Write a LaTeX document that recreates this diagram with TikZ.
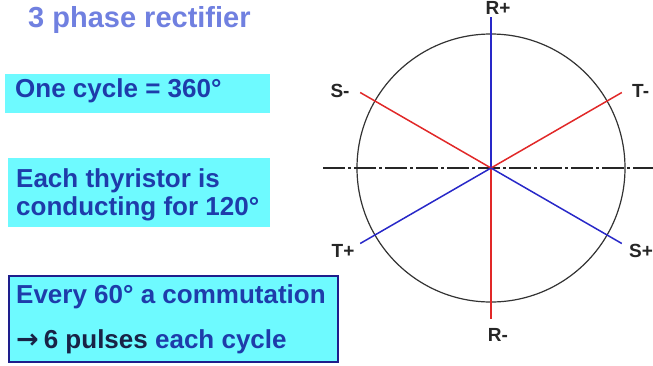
\documentclass[tikz,border=0pt]{standalone}
\usepackage{fontspec}
\setmainfont{Liberation Sans}
\newfontfamily\symfont{DejaVu Sans}
\definecolor{boxcyan}{RGB}{110,250,255}
\definecolor{txtblue}{RGB}{30,60,170}
\definecolor{titleblue}{RGB}{112,128,224}
\definecolor{darknavy}{RGB}{25,35,70}
\definecolor{bordernavy}{RGB}{30,30,140}
\definecolor{lineblue}{RGB}{40,40,200}
\definecolor{linered}{RGB}{225,40,40}
\tikzset{
  cbox/.style={rectangle, fill=boxcyan, anchor=north west, inner sep=0pt},
  btext/.style={anchor=base west, inner sep=0pt, font=\bfseries\fontsize{26}{28}\selectfont, text=txtblue},
  plabel/.style={inner sep=0pt, font=\bfseries\fontsize{19}{21}\selectfont, text=black!85},
  phaseblue/.style={draw=lineblue, line width=1.5pt},
  phasered/.style={draw=linered, line width=1.5pt},
}
\begin{document}
\begin{tikzpicture}[x=1pt,y=-1pt]
\useasboundingbox (0,0) rectangle (653,365);
\clip (0,0) rectangle (653,365);
% title
\node[anchor=base west, inner sep=0pt, font=\bfseries\fontsize{29}{31}\selectfont, text=titleblue] (title) at (28,27) {3 phase rectifier};
% boxes
\node[cbox, minimum width=265pt, minimum height=39pt] (box1) at (5,74) {};
\node[btext] (t1) at (15,97) {One cycle = 360°};
\node[cbox, minimum width=262pt, minimum height=69pt] (box2) at (8,158) {};
\node[btext] (t2a) at (16,187) {Each thyristor is};
\node[btext] (t2b) at (16,215) {conducting for 120°};
\node[cbox, draw=bordernavy, line width=1.5pt, minimum width=329pt, minimum height=86pt] (box3) at (8,275) {};
\node[btext] (t3a) at (16,303) {Every 60° a commutation};
\node[btext, text=darknavy] (t3b) at (16,348) {{\symfont\bfseries\fontsize{27}{28}\selectfont→}\hspace{5pt}6 pulses \textcolor{txtblue}{each cycle}};
% phasor diagram
\coordinate (O) at (491,168);
\draw[line width=1.2pt, black!80] (O) circle[radius=134];
\coordinate (HL) at (323,168);
\coordinate (HR) at (660,168);
\draw[line width=1.3pt, black!85, dash pattern=on 22pt off 3pt on 3pt off 3pt] (HL) -- (HR);
\coordinate (Rtop) at (491,17);
\coordinate (Rm) at (491,319);
\coordinate (Sm) at (360.2,92.5);
\coordinate (Tm) at (621.8,92.5);
\coordinate (Tp) at (360.2,243.5);
\coordinate (Sp) at (621.8,243.5);
\draw[phaseblue] (O) -- (Rtop);
\draw[phasered] (O) -- (Rm);
\draw[phasered] (O) -- (Sm);
\draw[phasered] (O) -- (Tm);
\draw[phaseblue] (O) -- (Tp);
\draw[phaseblue] (O) -- (Sp);
\node[plabel] (lRp) at (498,8) {R+};
\node[plabel] (lRm) at (498,335) {R-};
\node[plabel] (lSm) at (340,91) {S-};
\node[plabel, anchor=west] (lTm) at (632,91) {T-};
\node[plabel, anchor=west] (lSp) at (629,251) {S+};
\node[plabel] (lTp) at (343,251) {T+};
\end{tikzpicture}
\end{document}
